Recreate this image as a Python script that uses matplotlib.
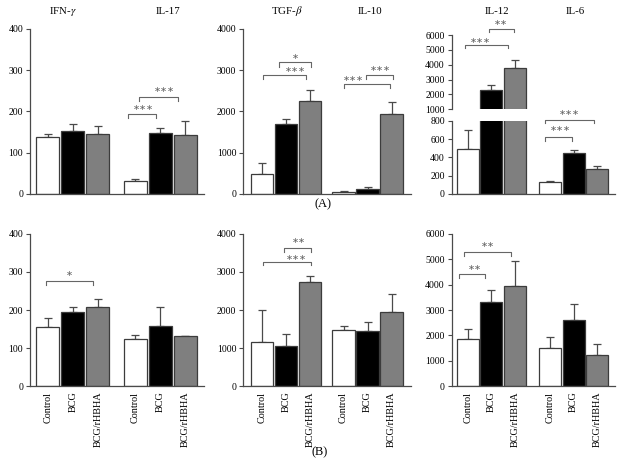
import numpy as np
import matplotlib
matplotlib.use("Agg")
import matplotlib.pyplot as plt

plt.rcParams['font.family'] = ['Liberation Serif', 'DejaVu Serif']
plt.rcParams['mathtext.fontset'] = 'stix'

# ------------------- DATOS -------------------
groups = ["Control", "BCG", "BCG/rHBHA"]

# (A) fila superior
a_ifn = [139, 152, 145]
a_ifn_err = [6, 18, 21]
a_il17 = [32, 148, 143]
a_il17_err = [4, 12, 33]
a_tgf = [485, 1705, 2246]
a_tgf_err = [265, 121, 284]
a_il10 = [48, 121, 1947]
a_il10_err = [17, 41, 275]
a_il12 = [488, 2300, 3780]
a_il12_err = [207, 315, 560]
a_il6 = [128, 450, 269]
a_il6_err = [10, 33, 36]

# (B) fila inferior
b_ifn = [154, 196, 207]
b_ifn_err = [24, 13, 23]
b_il17 = [123, 159, 132]
b_il17_err = [12, 48, 0]
b_tgf = [1166, 1053, 2737]
b_tgf_err = [834, 324, 158]
b_il10 = [1474, 1447, 1947]
b_il10_err = [105, 237, 466]
b_il12 = [1857, 3320, 3964]
b_il12_err = [383, 486, 964]
b_il6 = [1502, 2609, 1237]
b_il6_err = [447, 620, 411]

# ------------------- ESTILO -------------------
BAR_COLORS = ["white", "black", "#7f7f7f"]
EDGE = "#3c3c3c"
LINE = "#4a4a4a"
BRK = "#666666"
FS_TICK = 7
FS_LAB = 7.3
STAR_FONT = ['DejaVu Sans']


def style_axis(ax, ylim, yticks, show_bottom=True):
    for s in ["top", "right"]:
        ax.spines[s].set_visible(False)
    ax.spines["left"].set_color(LINE)
    ax.spines["left"].set_linewidth(0.9)
    ax.spines["bottom"].set_color(LINE)
    ax.spines["bottom"].set_linewidth(0.9)
    if not show_bottom:
        ax.spines["bottom"].set_visible(False)
    ax.set_ylim(*ylim)
    ax.set_yticks(yticks)
    ax.tick_params(axis="y", direction="out", length=3, width=0.8, color=LINE,
                   labelsize=FS_TICK, pad=2)
    ax.tick_params(axis="x", length=0)


def draw_group(ax, x0, vals, errs, width=0.93):
    xs = x0 + np.arange(3)
    ax.bar(xs, vals, width=width, color=BAR_COLORS, edgecolor=EDGE,
           linewidth=0.9, zorder=2)
    ax.errorbar(xs, vals, yerr=[np.zeros(3), errs], fmt="none", ecolor=LINE,
                elinewidth=0.9, capsize=3, capthick=0.9, zorder=1)
    return xs


def bracket(ax, x1, x2, y, label, lx, ly, drop, fs=6):
    ax.plot([x1, x1, x2, x2], [y - drop, y, y, y - drop], color=BRK,
            lw=0.8, clip_on=False, zorder=3)
    ax.text(lx, ly, label, ha="center", va="center", fontsize=fs,
            color=BRK, family=STAR_FONT, clip_on=False)


fig = plt.figure(figsize=(6.21, 4.73), dpi=100)

lefts = [0.0483, 0.3918, 0.7274]
widths = [0.2802, 0.2696, 0.2629]
xlims = [(-0.71, 6.25), (-0.78, 6.2), (-0.68, 6.26)]
offs = [3.5, 3.4, 3.5]

# ------------------- FILA (A) -------------------
ax = fig.add_axes([lefts[0], 0.5899, widths[0], 0.3488])
draw_group(ax, 0, a_ifn, a_ifn_err)
draw_group(ax, offs[0], a_il17, a_il17_err)
style_axis(ax, (0, 400), [0, 100, 200, 300, 400])
ax.set_xlim(*xlims[0])
ax.set_xticks([])
bracket(ax, 3.22, 4.32, 195, "∗∗∗", 3.82, 210, 10)
bracket(ax, 3.65, 5.2, 236, "∗∗∗", 4.65, 253, 10)

ax = fig.add_axes([lefts[1], 0.5899, widths[1], 0.3488])
draw_group(ax, 0, a_tgf, a_tgf_err)
draw_group(ax, offs[1], a_il10, a_il10_err)
style_axis(ax, (0, 4000), [0, 1000, 2000, 3000, 4000])
ax.set_xlim(*xlims[1])
ax.set_xticks([])
bracket(ax, 0.06, 1.82, 2877, "∗∗∗", 1.375, 3010, 100)
bracket(ax, 0.72, 2.04, 3190, "∗", 1.39, 3340, 100)
bracket(ax, 3.4, 5.33, 2675, "∗∗∗", 3.8, 2800, 100)
bracket(ax, 4.33, 5.45, 2885, "∗∗∗", 4.92, 3040, 100)

# eje cortado IL-12 / IL-6
axl = fig.add_axes([lefts[2], 0.5899, widths[2], 0.1549])
axu = fig.add_axes([lefts[2], 0.7689, widths[2], 0.1571])
for a in (axl, axu):
    draw_group(a, 0, a_il12, a_il12_err)
    draw_group(a, offs[2], a_il6, a_il6_err)
    a.set_xlim(*xlims[2])
    a.set_xticks([])
style_axis(axl, (0, 800), [0, 200, 400, 600, 800])
style_axis(axu, (1000, 6000), [1000, 2000, 3000, 4000, 5000, 6000], show_bottom=False)
bracket(axu, -0.1, 1.71, 5300, "∗∗∗", 0.55, 5640, 200)
bracket(axu, 0.89, 1.97, 6400, "∗∗", 1.43, 6850, 200)
bracket(axl, 3.29, 5.36, 807, "∗∗∗", 4.34, 885, 35)
bracket(axl, 3.29, 4.44, 618, "∗∗∗", 3.94, 710, 35)

# ------------------- FILA (B) -------------------
def xlabels(ax, off):
    xs = list(np.arange(3)) + list(off + np.arange(3))
    ax.set_xticks(xs)
    ax.set_xticklabels(groups * 2, rotation=90, fontsize=FS_LAB, va="top")
    ax.tick_params(axis="x", pad=4)


ax = fig.add_axes([lefts[0], 0.1839, widths[0], 0.3214])
draw_group(ax, 0, b_ifn, b_ifn_err)
draw_group(ax, offs[0], b_il17, b_il17_err)
style_axis(ax, (0, 400), [0, 100, 200, 300, 400])
ax.set_xlim(*xlims[0])
xlabels(ax, offs[0])
bracket(ax, -0.07, 1.82, 277, "∗", 0.86, 296, 10)

ax = fig.add_axes([lefts[1], 0.1839, widths[1], 0.3214])
draw_group(ax, 0, b_tgf, b_tgf_err)
draw_group(ax, offs[1], b_il10, b_il10_err)
style_axis(ax, (0, 4000), [0, 1000, 2000, 3000, 4000])
ax.set_xlim(*xlims[1])
xlabels(ax, offs[1])
bracket(ax, 0.05, 2.03, 3271, "∗∗∗", 1.45, 3390, 100)
bracket(ax, 0.93, 2.03, 3623, "∗∗", 1.53, 3830, 100)

ax = fig.add_axes([lefts[2], 0.1839, widths[2], 0.3214])
draw_group(ax, 0, b_il12, b_il12_err)
draw_group(ax, offs[2], b_il6, b_il6_err)
style_axis(ax, (0, 6000), [0, 1000, 2000, 3000, 4000, 5000, 6000])
ax.set_xlim(*xlims[2])
xlabels(ax, offs[2])
bracket(ax, -0.37, 0.74, 4415, "∗∗", 0.3, 4670, 150)
bracket(ax, -0.16, 1.86, 5284, "∗∗", 0.86, 5580, 150)

# ------------------- TEXTOS -------------------
titles = [("IFN-$\\gamma$", 63), ("IL-17", 168), ("TGF-$\\beta$", 287),
          ("IL-10", 370), ("IL-12", 497), ("IL-6", 575)]
for t, xp in titles:
    fig.text(xp / 621, 1 - 11 / 473, t, ha="center", va="center", fontsize=7.8)
fig.text(323 / 621, 1 - 204 / 473, "(A)", ha="center", va="center", fontsize=9)
fig.text(320 / 621, 1 - 452 / 473, "(B)", ha="center", va="center", fontsize=9)

fig.savefig("out.png", dpi=100)
